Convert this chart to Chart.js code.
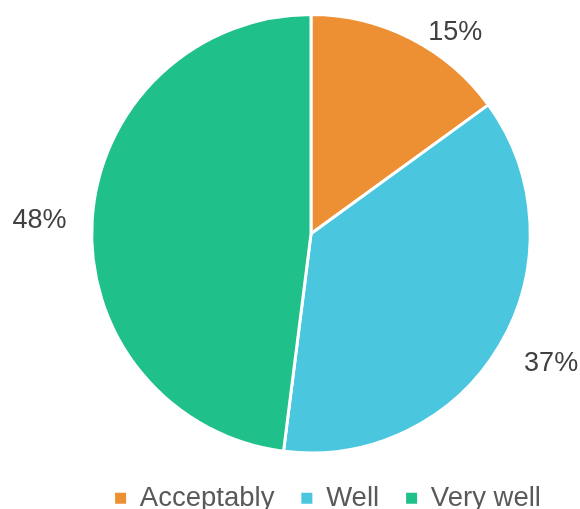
<!DOCTYPE html>
<html lang="en">
<head>
    <meta charset="UTF-8">
    <title>Pie chart</title>
    <script src="https://cdn.jsdelivr.net/npm/chart.js"></script>
    <style>
        html, body { margin: 0; padding: 0; background: #fff; }
        #wrap { width: 580px; height: 509px; }
    </style>
</head>
<body>
    <div id="wrap"><canvas id="myChart"></canvas></div>

    <script>
        // dados
        const categories = ['Acceptably', 'Well', 'Very well'];
        const values = [15, 37, 48];
        const colors = ['#ED8F33', '#4BC6DF', '#20C08A'];

        // rótulos fora da pizza: deslocamento de ângulo (graus) e distância relativa ao raio
        const labelPlacement = {
            angleShift: [8.6, -2.2, -0.8],
            distance: [1.13, 1.245, 1.24]
        };

        const outsideLabels = {
            id: 'outsideLabels',
            afterDatasetsDraw(chart) {
                const ctx = chart.ctx;
                const meta = chart.getDatasetMeta(0);
                ctx.save();
                ctx.font = '27px "Liberation Sans", Arial, sans-serif';
                ctx.fillStyle = '#404040';
                ctx.textAlign = 'center';
                ctx.textBaseline = 'middle';
                meta.data.forEach((arc, i) => {
                    const p = arc.getProps(['x', 'y', 'startAngle', 'endAngle', 'outerRadius'], true);
                    const mid = (p.startAngle + p.endAngle) / 2 + labelPlacement.angleShift[i] * Math.PI / 180;
                    const r = p.outerRadius * labelPlacement.distance[i];
                    ctx.fillText(values[i] + '%', p.x + Math.cos(mid) * r, p.y + Math.sin(mid) * r);
                });
                ctx.restore();
            }
        };

        // desloca a legenda para ficar como no original
        const legendShift = {
            id: 'legendShift',
            afterLayout(chart) {
                const lg = chart.legend;
                lg.left += 17; lg.right += 17;
                lg.top += 3; lg.bottom += 3;
            }
        };

        const ctx = document.getElementById('myChart').getContext('2d');
        const myChart = new Chart(ctx, {
            type: 'pie',
            data: {
                labels: categories,
                datasets: [{
                    data: values,
                    backgroundColor: colors,
                    borderColor: '#ffffff',
                    borderWidth: 3
                }]
            },
            options: {
                responsive: true,
                maintainAspectRatio: false,
                animation: false,
                layout: { padding: { top: 13, left: 42, right: 0, bottom: -10 } },
                plugins: {
                    tooltip: { enabled: false },
                    legend: {
                        position: 'bottom',
                        labels: {
                            boxWidth: 11,
                            boxHeight: 11,
                            padding: 27,
                            color: '#595959',
                            font: { family: '"Liberation Sans", Arial, sans-serif', size: 27.5 },
                            // sem a borda branca das fatias nos quadradinhos
                            generateLabels(chart) {
                                const items = Chart.overrides.pie.plugins.legend.labels.generateLabels(chart);
                                items.forEach(it => { it.lineWidth = 0; it.strokeStyle = 'rgba(0,0,0,0)'; });
                                return items;
                            }
                        }
                    }
                }
            },
            plugins: [outsideLabels, legendShift]
        });
    </script>
</body>
</html>
